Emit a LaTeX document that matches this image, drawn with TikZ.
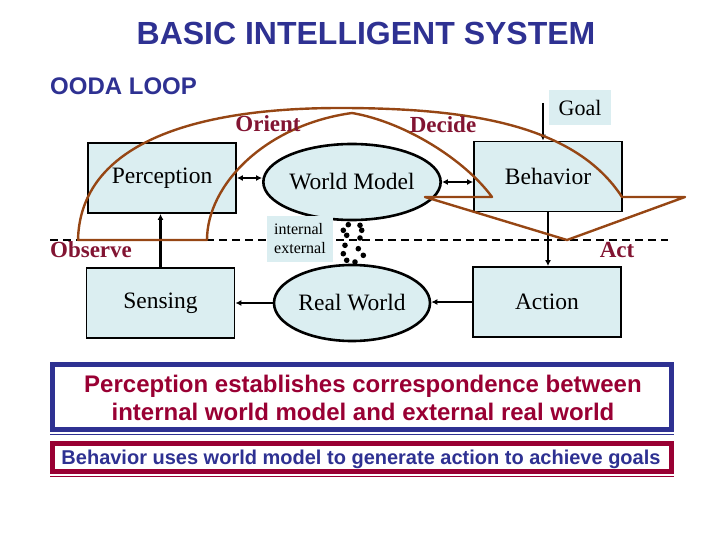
\documentclass[tikz,border=0pt]{standalone}
\usepackage{fontspec}
\setmainfont{Liberation Serif}
\newfontfamily\arialf{Liberation Sans}
\usetikzlibrary{arrows.meta,shapes.geometric}
\definecolor{tblue}{RGB}{46,49,146}
\definecolor{lblred}{RGB}{130,20,50}
\definecolor{bred}{RGB}{153,0,51}
\definecolor{loopbrown}{RGB}{150,70,20}
\definecolor{lcyan}{RGB}{219,238,241}
\tikzset{
  sysbox/.style={draw=black, line width=1.8pt, fill=lcyan, minimum width=148pt, minimum height=70pt, inner sep=0pt, font=\fontsize{23.5}{26}\selectfont},
  sysell/.style={ellipse, draw=black, line width=2.6pt, fill=lcyan, minimum width=156pt, minimum height=76pt, inner sep=0pt, font=\fontsize{23.5}{26}\selectfont},
  arr/.style={line width=2.4pt, -{Latex[length=6pt,width=6pt]}},
  darr/.style={line width=2.4pt, {Latex[length=6pt,width=6pt]}-{Latex[length=6pt,width=6pt]}},
  phase/.style={text=lblred, font=\fontsize{23}{25}\selectfont\bfseries, inner sep=0pt},
  loopline/.style={draw=loopbrown, line width=2.4pt, line join=round},
  dot/.style={circle, fill=black, minimum size=5.6pt, inner sep=0pt}
}
\begin{document}
\begin{tikzpicture}[x=1pt,y=-1pt]
\useasboundingbox (0,0) rectangle (720,540);
% titles
\node[text=tblue, font=\arialf\fontsize{32}{35}\selectfont\bfseries] (title) at (366,33) {BASIC INTELLIGENT SYSTEM};
\node[text=tblue, font=\arialf\fontsize{24}{27}\selectfont\bfseries, anchor=west, inner sep=0pt] (ooda) at (50,86) {OODA LOOP};
% dashed boundary
\coordinate (dl) at (50,240);
\coordinate (dr) at (668,240);
\draw[line width=1.5pt, dash pattern=on 8pt off 5pt] (dl) -- (dr);
% boxes and ellipses
\node[sysbox] (perc) at (162,178) {Perception};
\node[sysbox] (sens) at (160.5,303) {Sensing};
\node[sysbox] (beh) at (548,176.5) {Behavior};
\node[sysbox] (act) at (547,302) {Action};
\node[sysell] (wm) at (352,182) {World Model};
\node[sysell] (rw) at (352,303) {Real World};
\node[fill=lcyan, minimum width=62pt, minimum height=35pt, inner sep=0pt, font=\fontsize{22}{24}\selectfont] (goal) at (580,107.5) {Goal};
\node[fill=lcyan, minimum width=66pt, minimum height=46pt, inner sep=0pt, align=left, font=\fontsize{16}{19}\selectfont] (ie) at (300,239) {internal\\external};
% dotted link
\foreach \p in {(348.3,224.7),(360,225.3),(343.3,230.3),(361.7,230.3),(346.7,235.3),(360,238),(345,245.3),(358.3,248.7),(343.3,253.7),(363.3,255.3),(346.7,260.3),(355,262)}
  \node[dot] at \p {};
% connectors
\draw[darr] (perc.east) -- (perc.east -| wm.west);
\draw[darr] (wm.east) -- (wm.east -| beh.west);
\draw[arr] (sens.north) -- (sens.north |- perc.south);
\draw[arr] (rw.west) -- (rw.west -| sens.east);
\draw[arr] (act.west) -- (act.west -| rw.east);
\draw[arr] (beh.south) -- (beh.south |- act.north);
\coordinate (gstart) at (543,103);
\draw[arr] (gstart) -- (gstart |- beh.north);
% OODA loop
\coordinate (o1) at (78,240);
\coordinate (o2) at (207,240);
\coordinate (cusp) at (352,113);
\coordinate (d1) at (492,197);
\coordinate (d2) at (425,197);
\coordinate (actpt) at (567,240);
\coordinate (d3) at (685,197);
\coordinate (d4) at (622,197);
\coordinate (top) at (340,108);
\draw[loopline] (o1) -- (o2) .. controls (207,185) and (265,125) .. (cusp)
  .. controls (405,122) and (465,160) .. (d1) -- (d2) -- (actpt) -- (d3) -- (d4)
  .. controls (575,125) and (470,108) .. (top)
  .. controls (180,108) and (80,150) .. (o1) -- cycle;
% phase labels
\node[phase] (orient) at (268,124) {Orient};
\node[phase] (decide) at (443,125) {Decide};
\node[phase] (observe) at (91,250) {Observe};
\node[phase] (actl) at (617,250) {Act};
% bottom statements
\draw[tblue, line width=5pt] (52.5,364.5) rectangle (671.5,429.5);
\draw[tblue, line width=1pt] (50,434) -- (674,434);
\node[text=bred, align=center, font=\arialf\fontsize{24}{28}\selectfont\bfseries] (s1) at (363,398) {Perception establishes correspondence between\\internal world model and external real world};
\draw[bred, line width=5pt] (52.5,443.5) rectangle (671.5,471.5);
\draw[bred, line width=1pt] (50,476) -- (674,476);
\node[text=tblue, font=\arialf\fontsize{20}{22}\selectfont\bfseries] (s2) at (361,459) {Behavior uses world model to generate action to achieve goals};
\end{tikzpicture}
\end{document}
